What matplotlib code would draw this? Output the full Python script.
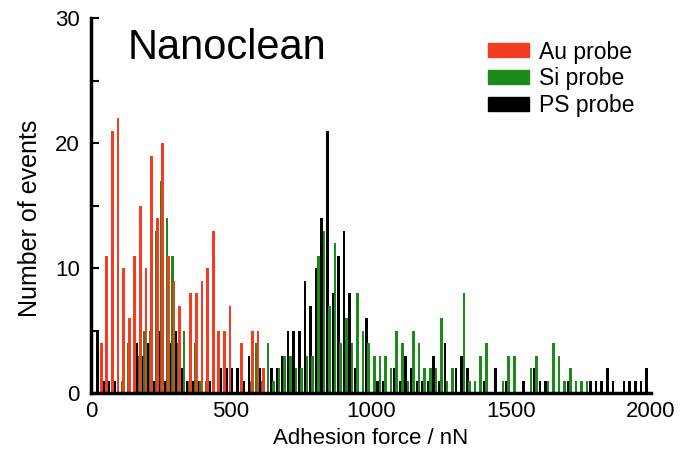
import numpy as np
import matplotlib
matplotlib.use("Agg")
import matplotlib.pyplot as plt
from matplotlib.patches import Patch

plt.rcParams['font.family'] = ['Liberation Sans', 'DejaVu Sans']

# histogram counts, 20 nN bins from 0 to 2000 nN
bin_width = 20
au_counts = [0, 4, 11, 21, 22, 10, 6, 11, 15, 10,
             19, 14, 20, 11, 9, 7, 0, 8, 8, 9,
             10, 13, 5, 5, 7, 0, 4, 0, 5, 5,
             2] + [0] * 69
si_counts = [0, 0, 0, 0, 0, 1, 4, 0, 3, 5,
             5, 13, 17, 14, 11, 4, 5, 1, 4, 1,
             1, 0, 0, 0, 0, 0, 0, 0, 1, 4,
             1, 4, 1, 2, 3, 3, 2, 2, 3, 3,
             11, 13, 7, 12, 4, 6, 4, 8, 5, 4,
             3, 3, 3, 2, 5, 4, 1, 5, 4, 2,
             2, 2, 6, 1, 2, 0, 8, 1, 1, 3,
             4, 0, 0, 1, 3, 3, 0, 0, 2, 3,
             0, 1, 4, 3, 1, 2, 1, 1, 1, 0,
             0, 0, 0, 0, 0, 0, 0, 0, 0, 0]
ps_counts = [0, 5, 1, 1, 1, 0, 0, 0, 4, 3,
             4, 1, 5, 1, 4, 5, 2, 1, 1, 1,
             0, 1, 0, 2, 2, 2, 2, 1, 3, 0,
             2, 0, 2, 2, 3, 5, 5, 5, 9, 7,
             10, 14, 21, 8, 11, 13, 8, 2, 0, 6,
             0, 1, 1, 0, 2, 1, 3, 2, 1, 1,
             1, 3, 1, 4, 0, 2, 3, 2, 0, 0,
             1, 0, 2, 0, 1, 0, 0, 1, 0, 2,
             1, 1, 0, 0, 0, 1, 0, 0, 0, 1,
             1, 1, 2, 1, 0, 1, 1, 1, 1, 2]
series_labels = ['Au probe', 'Si probe', 'PS probe']
series_colors = ['#f23d22', '#1b8a1b', '#000000']

bin_starts = np.arange(len(ps_counts)) * bin_width

fig = plt.figure(figsize=(6.81, 4.55), dpi=100)
ax = fig.add_axes([91 / 681, 62 / 455, 560 / 681, 375 / 455])

w = 9.5
ax.bar(bin_starts + 4, ps_counts, width=w, color=series_colors[2], linewidth=0)
ax.bar(bin_starts + 12, si_counts, width=w, color=series_colors[1], linewidth=0)
ax.bar(bin_starts + 16.5, au_counts, width=w, color=series_colors[0], linewidth=0)

ax.set_xlim(0, 2000)
ax.set_ylim(0, 30)
ax.set_xticks([0, 500, 1000, 1500, 2000])
ax.set_yticks([0, 10, 20, 30])
ax.set_yticks([5, 15, 25], minor=True)
ax.tick_params(axis='x', length=0, labelsize=16, pad=6)
ax.tick_params(axis='y', which='both', direction='in', width=1.5, labelsize=16, pad=8)
ax.tick_params(axis='y', which='major', length=6)
ax.tick_params(axis='y', which='minor', length=6)

for side in ['top', 'right']:
    ax.spines[side].set_visible(False)
for side in ['left', 'bottom']:
    ax.spines[side].set_linewidth(2.5)

ax.set_xlabel('Adhesion force / nN', fontsize=16, labelpad=4)
ax.set_ylabel('Number of events', fontsize=18)
ax.yaxis.set_label_coords(-0.088, 0.467)

ax.text(0.066, 0.974, 'Nanoclean', transform=ax.transAxes, fontsize=30,
        va='top', ha='left')

handles = [Patch(color=c, label=l) for c, l in zip(series_colors, series_labels)]
ax.legend(handles=handles, loc='upper left', bbox_to_anchor=(0.709, 0.94),
          frameon=False, fontsize=16.5, borderpad=0, borderaxespad=0,
          handlelength=1.79, handleheight=0.57, handletextpad=0.44,
          labelspacing=0.17)

fig.savefig('out.png', dpi=100)
